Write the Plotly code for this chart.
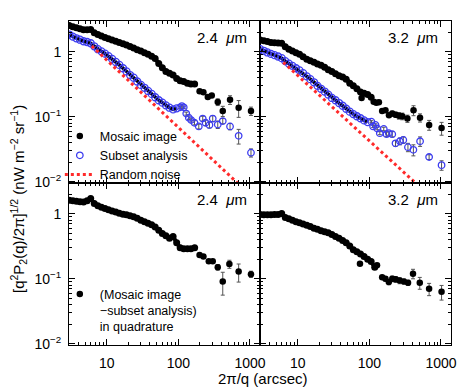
import plotly.graph_objects as go
from plotly.subplots import make_subplots

FONT = "Liberation Sans, Arial, sans-serif"
BLUE = "#3c3cf0"
RED = "#ff2a2a"
ERRC = "#555555"

# densely packed points at small angular scales (arcsec), shared by all panels
x_dense = [3.0, 3.37, 3.78, 4.24, 4.75, 5.33, 5.98, 6.71, 7.53, 8.45, 9.48, 10.6,
           11.9, 13.4, 15.0, 16.9, 18.9, 21.2, 23.8, 26.7, 30.0, 33.7, 37.8, 42.4,
           47.5, 53.3, 59.8, 67.1, 75.3, 84.5, 94.8, 106, 119, 134, 150, 169]

# ---- 2.4 um ----
mos24_y = [2.55, 2.45, 2.35, 2.28, 2.2, 2.2, 2.22, 1.98, 1.85, 1.76, 1.66, 1.6,
           1.53, 1.46, 1.4, 1.34, 1.28, 1.21, 1.15, 1.08, 1.03, 0.97, 0.92, 0.86,
           0.79, 0.66, 0.57, 0.5, 0.47, 0.44, 0.39, 0.36, 0.35, 0.33, 0.32, 0.32]
mos24_tail_x = [198, 224, 258, 293, 355, 417, 527, 695, 1033]
mos24_tail_y = [0.248, 0.239, 0.201, 0.213, 0.169, 0.123, 0.183, 0.138, 0.123]
mos24_tail_err = [0.012, 0.012, 0.012, 0.013, 0.02, 0.022, 0.028, 0.04, 0.018]

sub24_y = [1.85, 1.72, 1.62, 1.54, 1.46, 1.42, 1.36, 1.22, 1.1, 1.02, 0.94, 0.86,
           0.78, 0.7, 0.63, 0.56, 0.5, 0.44, 0.4, 0.35, 0.31, 0.28, 0.25, 0.225,
           0.2, 0.18, 0.165, 0.15, 0.138, 0.13, 0.135]
sub24_tail_x = [106, 112, 119, 129, 140, 151, 168, 193, 219, 240, 272, 302, 355,
                417, 527, 695, 1033]
sub24_tail_y = [0.14, 0.146, 0.14, 0.112, 0.097, 0.089, 0.081, 0.071, 0.094, 0.081,
                0.075, 0.094, 0.076, 0.086, 0.071, 0.051, 0.028]
sub24_tail_err = [0.006, 0.006, 0.006, 0.006, 0.006, 0.006, 0.006, 0.006, 0.008,
                  0.008, 0.008, 0.01, 0.01, 0.008, 0.008, 0.013, 0.004]

noise24_x = [6.2, 1000]
noise24_y = [1.23, 0.0063]

quad24_y = [1.62, 1.6, 1.56, 1.54, 1.53, 1.6, 1.72, 1.45, 1.33, 1.27, 1.21, 1.16,
            1.11, 1.07, 1.02, 0.99, 0.97, 0.94, 0.9, 0.86, 0.8, 0.76, 0.72, 0.68,
            0.63, 0.56, 0.5, 0.46, 0.42, 0.45, 0.36, 0.3, 0.29, 0.29, 0.29, 0.3]
quad24_tail_x = [198, 224, 266, 302, 355, 417, 516, 695, 1033]
quad24_tail_y = [0.232, 0.221, 0.186, 0.186, 0.151, 0.091, 0.169, 0.129, 0.118]
quad24_tail_err = [0.01, 0.012, 0.012, 0.012, 0.015, 0.035, 0.024, 0.04, 0.013]

# ---- 3.2 um ----
mos32_y = [1.52, 1.48, 1.44, 1.4, 1.38, 1.37, 1.36, 1.2, 1.1, 1.03, 0.97, 0.92,
           0.84, 0.77, 0.73, 0.69, 0.65, 0.62, 0.58, 0.53, 0.5, 0.46, 0.43, 0.41,
           0.38, 0.33, 0.3, 0.27, 0.24, 0.23, 0.22, 0.2]
mos32_tail_x = [78, 115, 125, 136, 151, 168, 188, 209, 233, 259, 288, 340, 414,
                510, 684, 1020]
mos32_tail_y = [0.195, 0.17, 0.165, 0.168, 0.123, 0.126, 0.106, 0.112, 0.108,
                0.104, 0.102, 0.094, 0.126, 0.097, 0.075, 0.067]
mos32_tail_err = [0.004, 0.005, 0.006, 0.006, 0.007, 0.007, 0.008, 0.01, 0.01,
                  0.012, 0.012, 0.012, 0.022, 0.014, 0.013, 0.015]

sub32_y = [1.1, 1.04, 0.98, 0.93, 0.89, 0.85, 0.8, 0.72, 0.66, 0.61, 0.56, 0.52,
           0.47, 0.42, 0.38, 0.34, 0.3, 0.27, 0.245, 0.22, 0.195, 0.18, 0.163,
           0.148, 0.133, 0.12, 0.11, 0.102, 0.095, 0.088, 0.083]
sub32_tail_x = [107, 113, 122, 129, 140, 159, 174, 187, 209, 232, 267, 298, 346,
                412, 511, 683, 1019]
sub32_tail_y = [0.084, 0.071, 0.075, 0.066, 0.056, 0.065, 0.054, 0.056, 0.054,
                0.039, 0.042, 0.044, 0.034, 0.031, 0.042, 0.024, 0.018]
sub32_tail_err = [0.003, 0.003, 0.003, 0.003, 0.003, 0.004, 0.004, 0.004, 0.005,
                  0.004, 0.005, 0.005, 0.005, 0.006, 0.007, 0.002, 0.003]

noise32_x = [6.3, 1000]
noise32_y = [0.69, 0.0042]

quad32_y = [0.98, 0.97, 0.97, 0.97, 0.98, 0.98, 1.01, 0.88, 0.84, 0.8, 0.76, 0.73,
            0.7, 0.67, 0.64, 0.6, 0.58, 0.55, 0.53, 0.51, 0.48, 0.45, 0.42, 0.39,
            0.36, 0.32, 0.28, 0.26, 0.24, 0.22, 0.2, 0.185, 0.15]
quad32_tail_x = [74, 128, 151, 168, 187, 209, 233, 265, 304, 347, 407, 506, 683, 1019]
quad32_tail_y = [0.171, 0.162, 0.106, 0.1, 0.089, 0.1, 0.098, 0.094, 0.091, 0.087,
                 0.12, 0.087, 0.07, 0.063]
quad32_tail_err = [0.004, 0.005, 0.006, 0.008, 0.008, 0.01, 0.01, 0.01, 0.008,
                   0.008, 0.02, 0.018, 0.015, 0.016]

panel_labels = ["2.4  <i>μ</i>m", "3.2  <i>μ</i>m"]

minor_x = [4, 5, 6, 7, 8, 9, 20, 30, 40, 50, 60, 70, 80, 90,
           200, 300, 400, 500, 600, 700, 800, 900, 2000]
minor_y = [0.02, 0.03, 0.04, 0.05, 0.06, 0.07, 0.08, 0.09,
           0.2, 0.3, 0.4, 0.5, 0.6, 0.7, 0.8, 0.9, 2, 3]


def filled(x, y, row, col, name=None, err=None, legend="legend", dense=False):
    tr = go.Scatter(
        x=x, y=y, mode="lines+markers" if dense else "markers",
        marker=dict(symbol="circle", size=7 if dense else 6.5, color="black"),
        line=dict(color="black", width=4),
        name=name, showlegend=name is not None, legend=legend,
    )
    if err is not None:
        tr.error_y = dict(type="data", array=err, color=ERRC, thickness=1, width=2)
    fig.add_trace(tr, row=row, col=col)


def hollow(x, y, row, col, name=None, err=None, dense=False):
    tr = go.Scatter(
        x=x, y=y, mode="lines+markers" if dense else "markers",
        marker=dict(symbol="circle-open", size=7 if dense else 6.5, color=BLUE,
                    line=dict(width=1.3)),
        line=dict(color="black", width=3.5),
        name=name, showlegend=name is not None,
    )
    if err is not None:
        tr.error_y = dict(type="data", array=err, color=ERRC, thickness=1, width=2)
    fig.add_trace(tr, row=row, col=col)


def noise(x, y, row, col, name=None):
    fig.add_trace(go.Scatter(
        x=x, y=y, mode="lines", line=dict(color=RED, width=3, dash="dot"),
        name=name, showlegend=name is not None,
    ), row=row, col=col)


fig = make_subplots(rows=2, cols=2, horizontal_spacing=0, vertical_spacing=0)

# top left: 2.4 um
filled(x_dense[:len(mos24_y)], mos24_y, 1, 1, dense=True)
filled(mos24_tail_x, mos24_tail_y, 1, 1, name="Mosaic image", err=mos24_tail_err)
hollow(x_dense[:len(sub24_y)], sub24_y, 1, 1, dense=True)
hollow(sub24_tail_x, sub24_tail_y, 1, 1, name="Subset analysis", err=sub24_tail_err)
noise(noise24_x, noise24_y, 1, 1, name="Random noise")

# top right: 3.2 um
filled(x_dense[:len(mos32_y)], mos32_y, 1, 2, dense=True)
filled(mos32_tail_x, mos32_tail_y, 1, 2, err=mos32_tail_err)
hollow(x_dense[:len(sub32_y)], sub32_y, 1, 2, dense=True)
hollow(sub32_tail_x, sub32_tail_y, 1, 2, err=sub32_tail_err)
noise(noise32_x, noise32_y, 1, 2)

# bottom: quadrature difference
filled(x_dense[:len(quad24_y)], quad24_y, 2, 1, dense=True)
filled(quad24_tail_x, quad24_tail_y, 2, 1,
       name="(Mosaic image<br>−subset analysis)<br>in quadrature",
       err=quad24_tail_err, legend="legend2")
filled(x_dense[:len(quad32_y)], quad32_y, 2, 2, dense=True)
filled(quad32_tail_x, quad32_tail_y, 2, 2, err=quad32_tail_err)

axis_common = dict(
    type="log", showgrid=False, zeroline=False,
    showline=True, linecolor="black", linewidth=1, mirror="ticks",
    ticks="inside", ticklen=6, tickwidth=1, tickcolor="black",
    tickfont=dict(size=14, family=FONT, color="black"),
)
fig.update_xaxes(
    range=[0.474, 3.14], tickvals=[10, 100, 1000], ticktext=["10", "100", "1000"],
    minor=dict(ticks="inside", ticklen=3, tickcolor="black", tickvals=minor_x),
    ticklabelstandoff=5, **axis_common,
)
fig.update_yaxes(
    range=[-2.02, 0.476], tickvals=[0.01, 0.1, 1],
    ticktext=["10<sup>−2</sup>", "10<sup>−1</sup>", "1"],
    minor=dict(ticks="inside", ticklen=3, tickcolor="black", tickvals=minor_y),
    ticklabelstandoff=4, **axis_common,
)
fig.update_xaxes(showticklabels=False, row=1)
fig.update_yaxes(showticklabels=False, col=2)

# wavelength labels in each panel
for i, (xa, ya) in enumerate([("x", "y"), ("x2", "y2"), ("x3", "y3"), ("x4", "y4")]):
    fig.add_annotation(
        text=panel_labels[i % 2], xref=f"{xa} domain", yref=f"{ya} domain",
        x=0.94, y=0.9, xanchor="right", yanchor="middle", showarrow=False,
        font=dict(size=15, family=FONT, color="black"),
    )

fig.add_annotation(
    text="[q<sup>2</sup>P<sub>2</sub>(q)/2π]<sup>1/2</sup> (nW m<sup>−2</sup> sr<sup>−1</sup>)",
    xref="paper", yref="paper", x=-0.134, y=0.45, textangle=-90,
    xanchor="center", yanchor="middle", showarrow=False,
    font=dict(size=15, family=FONT, color="black"),
)
fig.add_annotation(
    text="2π/q (arcsec)", xref="paper", yref="paper", x=0.508, y=-0.102,
    xanchor="center", yanchor="middle", showarrow=False,
    font=dict(size=15, family=FONT, color="black"),
)

fig.update_layout(
    width=472, height=390,
    margin=dict(l=69, r=21, t=21, b=45),
    plot_bgcolor="white", paper_bgcolor="white",
    font=dict(family=FONT, size=14, color="black"),
    legend=dict(x=-0.024, y=0.69, xanchor="left", yanchor="top",
                bgcolor="rgba(0,0,0,0)", itemwidth=30, tracegroupgap=0,
                font=dict(size=12.5, family=FONT, color="black")),
    legend2=dict(x=-0.024, y=0.2025, xanchor="left", yanchor="top", valign="top",
                 bgcolor="rgba(0,0,0,0)", itemwidth=30,
                 font=dict(size=12.5, family=FONT, color="black")),
)

fig.write_html("out.html", config={"displayModeBar": False},
               post_script="document.body.style.margin='0px';")
